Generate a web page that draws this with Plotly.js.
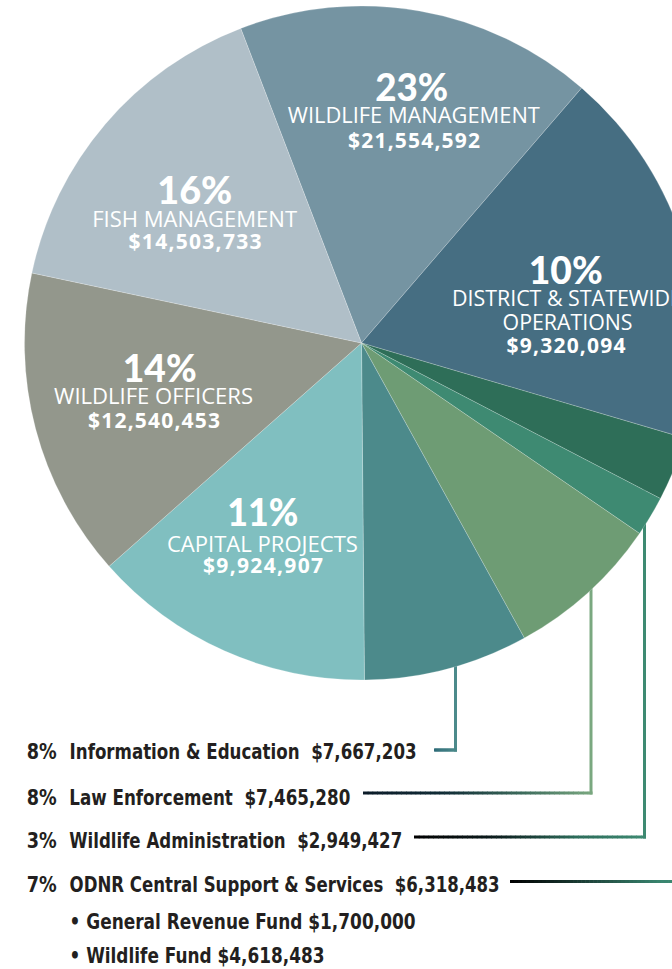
<!DOCTYPE html>
<html><head><meta charset="utf-8">
<script src="https://cdn.plot.ly/plotly-3.0.1.min.js"></script>
<style>
html,body{margin:0;padding:0;overflow:hidden;background:#fff;width:672px;height:969px}
#chart{width:700px;height:969px}
</style>
</head><body><div id="chart"></div>
<script>
// ---- data ----
const sliceNames = ['Wildlife Management','District & Statewide Operations','ODNR Central Support & Services','Wildlife Administration','Law Enforcement','Information & Education','Capital Projects','Wildlife Officers','Fish Management'];
// slice sizes as drawn in the picture (degrees of arc, clockwise from Wildlife Management)
const sliceShares = [61.8, 65.6, 11.1, 6.9, 26.7, 28.4, 49.0, 53.5, 57.0];
const slicePct = ['23%','10%','7%','3%','8%','8%','11%','14%','16%'];
const sliceAmounts = ['$21,554,592','$9,320,094','$6,318,483','$2,949,427','$7,465,280','$7,667,203','$9,924,907','$12,540,453','$14,503,733'];
const sliceColors = ['#7594a2','#466e82','#2e6e58','#3e8a72','#6e9c74','#4c8a8b','#80bfc0','#93978c','#b0bfc8'];
const insideNames = ['WILDLIFE MANAGEMENT','DISTRICT & STATEWIDE','','','','','CAPITAL PROJECTS','WILDLIFE OFFICERS','FISH MANAGEMENT'];
const insideNames2 = ['','OPERATIONS','','','','','','',''];
const subItems = ['General Revenue Fund $1,700,000','Wildlife Fund $4,618,483'];

// ---- geometry / styles ----
const W = 700, H = 969;
const px = x => x / W, py = y => 1 - y / H;
const cx = 361.5, cy = 343, r = 337;

const annotations = [];
const fits = [];   // [annotation index, target width]
const shapes = [];
function ann(text, x, y, font, width) {
  annotations.push({text: text, x: px(x), y: py(y), xref: 'paper', yref: 'paper',
    showarrow: false, xanchor: 'center', yanchor: 'middle', font: font, borderpad: 0});
  if (width) fits.push([annotations.length - 1, width]);
}
const pctFont = {family: 'Lato, sans-serif', size: 38, color: '#ffffff', weight: 900};
const nameFont = {family: '"Open Sans", sans-serif', size: 22.5, color: '#ffffff', weight: 500};
const amtFont = {family: '"Open Sans", sans-serif', size: 21, color: '#ffffff', weight: 700};

// inside labels: [slice, pct x0,x1,y, name x0,x1,y, amount x0,x1,y]
const inside = [
  [0, 375, 448, 86, 288, 540, 115, 348, 480, 140],
  [8, 157, 232, 189, 92, 297, 218, 128, 261, 241],
  [7, 123, 197, 367, 54, 253, 395, 88, 220, 420],
  [6, 227, 298, 511, 167, 358, 543, 203, 323, 565],
];
inside.forEach(d => {
  const i = d[0];
  ann(slicePct[i], (d[1]+d[2])/2, d[3], pctFont, d[2]-d[1]);
  ann(insideNames[i], (d[4]+d[5])/2, d[6], nameFont, d[5]-d[4]);
  ann(sliceAmounts[i], (d[7]+d[8])/2, d[9], amtFont, d[8]-d[7]);
});
// district & statewide (two-line name)
ann(slicePct[1], 566, 268.5, pctFont, 74);
ann(insideNames[1], 567, 298, nameFont, 230);
ann(insideNames2[1], 567, 321, nameFont, 130);
ann(sliceAmounts[1], 565.5, 345, amtFont, 119);

// bottom list: [slice, y, text right edge]
const listFont = {family: '"DejaVu Sans", sans-serif', size: 22, color: '#231f20', weight: 700};
const listRows = [[5, 751, 416], [4, 797, 350], [3, 840, 402], [2, 884, 499]];
listRows.forEach(d => {
  const i = d[0];
  ann(slicePct[i], 41, d[1], listFont, 30);
  ann(sliceNames[i] + '\u00A0\u00A0' + sliceAmounts[i], (69 + d[2]) / 2, d[1], listFont, d[2] - 69);
});
ann('\u2022 ' + subItems[0], (69 + 415) / 2, 921, listFont, 415 - 69);
ann('\u2022 ' + subItems[1], (69 + 324) / 2, 955, listFont, 324 - 69);

// connector lines
function hexToRgb(h) { h = h.replace('#',''); return [0,2,4].map(k => parseInt(h.substr(k,2),16)); }
function colorAt(stops, t) {
  for (let k = 1; k < stops.length; k++) {
    if (t <= stops[k][0]) {
      const a = stops[k-1], b = stops[k];
      const u = (t - a[0]) / (b[0] - a[0] || 1);
      const ca = hexToRgb(a[1]), cb = hexToRgb(b[1]);
      return 'rgb(' + ca.map((v, j) => Math.round(v + (cb[j]-v)*u)).join(',') + ')';
    }
  }
  return stops[stops.length-1][1];
}
function gradLine(x0, x1, y, stops, w) {
  const n = 48, step = (x1 - x0) / n;
  for (let k = 0; k < n; k++) {
    const a = x0 + k*step, b = a + step + 0.6;
    shapes.push({type: 'line', xref: 'paper', yref: 'paper', x0: px(a), x1: px(Math.min(b, x1)), y0: py(y), y1: py(y),
      line: {color: colorAt(stops, (k + 0.5)/n), width: w}});
  }
}
function vLine(x, y0, y1, color, w) {
  shapes.push({type: 'line', xref: 'paper', yref: 'paper', layer: 'below', x0: px(x), x1: px(x), y0: py(y0), y1: py(y1),
    line: {color: color, width: w}});
}
vLine(455.5, 600, 751.5, '#4c8a8b', 3);
gradLine(434, 457, 750, [[0,'#2f6c78'],[1,'#4c8a8b']], 3);
vLine(591, 540, 794.5, '#7aa880', 3);
gradLine(363, 592.5, 793, [[0,'#0b1a28'],[0.35,'#102c36'],[0.7,'#3d6c5c'],[1,'#7aa880']], 3);
vLine(644.5, 480, 838.5, '#3e8a72', 3);
gradLine(414, 646, 837, [[0,'#000000'],[0.35,'#0b1b1c'],[0.7,'#2c6c5a'],[1,'#3e8a72']], 3);
gradLine(510, 700, 881.5, [[0,'#000000'],[0.3,'#15302a'],[0.8,'#3a8670'],[1,'#3e8a72']], 3);

const pie = {
  type: 'pie', values: sliceShares, labels: sliceNames, sort: false,
  direction: 'clockwise', rotation: -21,
  marker: {colors: sliceColors, line: {color: 'rgba(255,255,255,0.35)', width: 0.6}},
  textinfo: 'none', hoverinfo: 'skip', showlegend: false,
  domain: {x: [px(cx - r), px(cx + r)], y: [py(cy + r), py(cy - r)]}
};

Plotly.newPlot('chart', [pie], {
  width: W, height: H, margin: {l: 0, r: 0, t: 0, b: 0},
  paper_bgcolor: '#ffffff', plot_bgcolor: '#ffffff',
  showlegend: false, annotations: annotations, shapes: shapes
}, {staticPlot: true, displayModeBar: false}).then(gd => {
  // fit each text to the width it has in the reference
  fits.forEach(f => {
    const g = gd.querySelector('.annotation[data-index="' + f[0] + '"] text.annotation-text');
    if (!g) return;
    const natural = g.getComputedTextLength();
    g.setAttribute('textLength', f[1]);
    g.setAttribute('lengthAdjust', natural > f[1] ? 'spacingAndGlyphs' : 'spacing');
  });
});
</script></body></html>
